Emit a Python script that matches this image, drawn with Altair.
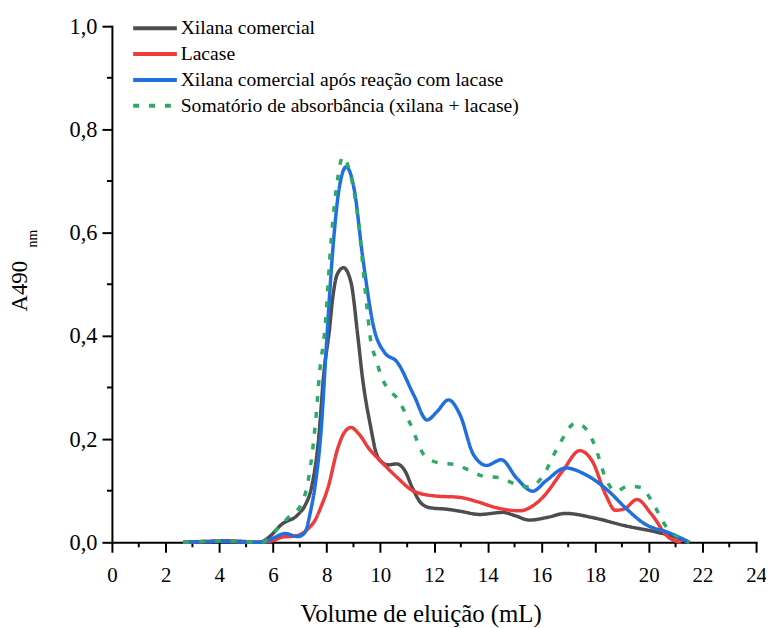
import altair as alt
import pandas as pd

series_names = [
    "Xilana comercial",
    "Lacase",
    "Xilana comercial após reação com lacase",
    "Somatório de absorbância (xilana + lacase)",
]
colors = ["#4d4d4d", "#ee3b3b", "#1f6fde", "#2eaa66"]

xil_x = [2.65, 3.5, 4.1, 4.8, 5.5, 5.85, 6.33, 6.94, 7.2, 7.43, 7.7, 7.9, 8.1, 8.23, 8.4, 8.63, 8.91, 9.16, 9.34, 9.65, 9.83, 10.02, 10.3, 10.6, 10.9, 11.2, 11.5, 11.85, 12.5, 13.0, 13.7, 14.57, 15.0, 15.56, 16.2, 16.91, 17.9, 19.13, 20.36, 21.0, 21.46]
xil_y = [0.0, 0.001, 0.003, 0.002, 0.0, 0.01, 0.035, 0.054, 0.072, 0.105, 0.2, 0.33, 0.41, 0.475, 0.52, 0.532, 0.503, 0.40, 0.317, 0.221, 0.176, 0.157, 0.15, 0.152, 0.14, 0.105, 0.077, 0.067, 0.064, 0.06, 0.054, 0.058, 0.052, 0.043, 0.048, 0.056, 0.048, 0.032, 0.019, 0.01, 0.0]

lac_x = [2.65, 4.1, 5.5, 6.0, 6.33, 6.8, 7.06, 7.3, 7.56, 7.8, 8.05, 8.42, 8.65, 8.91, 9.2, 9.6, 10.02, 10.6, 11.25, 12.0, 12.97, 13.59, 14.33, 15.19, 15.6, 16.05, 16.79, 17.43, 17.9, 18.39, 18.76, 19.1, 19.56, 20.11, 20.73, 21.2]
lac_y = [0.0, 0.002, 0.0, 0.003, 0.01, 0.012, 0.016, 0.026, 0.042, 0.07, 0.106, 0.183, 0.212, 0.2225, 0.21, 0.18, 0.157, 0.127, 0.099, 0.09, 0.087, 0.079, 0.067, 0.061, 0.068, 0.087, 0.138, 0.1775, 0.157, 0.093, 0.062, 0.065, 0.083, 0.054, 0.01, 0.0]

rea_x = [2.65, 4.1, 5.59, 6.0, 6.45, 6.94, 7.19, 7.4, 7.56, 7.8, 7.99, 8.23, 8.45, 8.73, 9.03, 9.34, 9.77, 10.14, 10.63, 11.25, 11.74, 12.11, 12.54, 12.97, 13.47, 13.96, 14.51, 15.07, 15.68, 16.17, 16.91, 17.65, 18.51, 19.13, 19.87, 20.73, 21.53]
rea_y = [0.0, 0.002, 0.0, 0.008, 0.017, 0.011, 0.019, 0.06, 0.106, 0.221, 0.381, 0.567, 0.68, 0.7275, 0.683, 0.554, 0.413, 0.369, 0.349, 0.285, 0.237, 0.253, 0.276, 0.247, 0.17, 0.149, 0.16, 0.125, 0.099, 0.119, 0.144, 0.131, 0.099, 0.067, 0.035, 0.019, 0.0]

som_x = [2.65, 4.1, 5.59, 6.08, 6.57, 7.06, 7.31, 7.5, 7.62, 7.74, 7.93, 8.17, 8.42, 8.6, 8.9, 9.16, 9.46, 9.65, 9.83, 10.02, 10.27, 10.63, 11.13, 11.62, 12.17, 12.73, 13.3, 13.84, 14.45, 15.07, 15.56, 16.05, 16.6, 17.28, 17.77, 18.02, 18.39, 18.76, 19.25, 19.74, 20.11, 20.67, 21.22, 21.5]
som_y = [0.0, 0.003, 0.0, 0.022, 0.048, 0.074, 0.119, 0.189, 0.253, 0.33, 0.41, 0.587, 0.708, 0.747, 0.71, 0.631, 0.477, 0.388, 0.356, 0.324, 0.298, 0.279, 0.228, 0.17, 0.154, 0.151, 0.14, 0.128, 0.125, 0.112, 0.107, 0.128, 0.183, 0.231, 0.212, 0.183, 0.125, 0.099, 0.109, 0.106, 0.08, 0.029, 0.006, 0.0]

x_major = list(range(0, 25, 2))
x_minor = list(range(1, 24, 2))
y_major = [0.0, 0.2, 0.4, 0.6, 0.8, 1.0]
y_minor = [0.1, 0.3, 0.5, 0.7, 0.9]

frames = []
for name, xs, ys in zip(series_names, [xil_x, lac_x, rea_x, som_x], [xil_y, lac_y, rea_y, som_y]):
    frames.append(pd.DataFrame({"vol": xs, "abs": ys, "serie": name}))
df = pd.concat(frames, ignore_index=True)

FONT = "Liberation Serif"
W, H = 649, 520

xscale = alt.Scale(domain=[0, 24], nice=False)
yscale = alt.Scale(domain=[0, 1], nice=False)

lines = alt.Chart(df).mark_line(strokeWidth=3.5, interpolate="monotone").encode(
    x=alt.X("vol:Q", scale=xscale,
            axis=alt.Axis(values=x_major, format="d", title="Volume de eluição (mL)",
                          grid=False, tickSize=10, tickWidth=2, domainWidth=2,
                          domainColor="black", tickColor="black",
                          labelFont=FONT, labelFontSize=21, labelColor="black",
                          labelPadding=12, labelFlush=False,
                          titleFont=FONT, titleFontSize=25, titleFontWeight="normal",
                          titleColor="black", titlePadding=17, titleX=311,
                          titleAnchor="start", titleAlign="center")),
    y=alt.Y("abs:Q", scale=yscale,
            axis=alt.Axis(values=y_major, title=None,
                          labelExpr="replace(format(datum.value, '.1f'), '.', ',')",
                          grid=False, tickSize=10, tickWidth=2, domainWidth=2,
                          domainColor="black", tickColor="black",
                          labelFont=FONT, labelFontSize=22.5, labelColor="black",
                          labelPadding=5, labelFlush=False)),
    color=alt.Color("serie:N", scale=alt.Scale(domain=series_names, range=colors),
                    sort=series_names,
                    legend=alt.Legend(title=None, orient="none", legendX=36.6, legendY=-13.4,
                                      symbolType="M-2.3,0H1", symbolSize=711,
                                      symbolStrokeWidth=4, symbolFillColor="transparent",
                                      labelFont=FONT,
                                      labelFontSize=19.75, labelColor="black",
                                      labelOffset=1.7, rowPadding=-1, labelLimit=600)),
    strokeDash=alt.StrokeDash("serie:N",
                              scale=alt.Scale(domain=series_names,
                                              range=[[1, 0], [1, 0], [1, 0], [6, 10]]),
                              sort=series_names, legend=None),
    detail="serie:N",
)

xminor_df = pd.DataFrame({"v": x_minor})
yminor_df = pd.DataFrame({"v": y_minor})

xminor = alt.Chart(xminor_df).mark_rule(color="black", strokeWidth=2).encode(
    x=alt.X("v:Q", scale=xscale),
    y=alt.value(H), y2=alt.value(H + 5),
)
yminor = alt.Chart(yminor_df).mark_rule(color="black", strokeWidth=2).encode(
    y=alt.Y("v:Q", scale=yscale),
    x=alt.value(0), x2=alt.value(-5),
)

ytitle_df = pd.DataFrame({"t": ["A490"]})
ytitle = alt.Chart(ytitle_df).mark_text(font=FONT, fontSize=23, angle=270,
                                         align="center", baseline="middle",
                                         color="black").encode(
    text="t:N", x=alt.value(-93), y=alt.value(262))
nm_df = pd.DataFrame({"t": ["nm"]})
ysub = alt.Chart(nm_df).mark_text(font=FONT, fontSize=14, angle=270,
                                   align="center", baseline="middle",
                                   color="black").encode(
    text="t:N", x=alt.value(-79), y=alt.value(214))

chart = alt.layer(xminor, yminor, lines, ytitle, ysub).properties(
    width=W, height=H,
    autosize=alt.AutoSizeParams(type="none"),
    padding={"left": 104.7, "top": 16, "right": 10, "bottom": 84},
).configure_view(stroke=None).configure_axis(domainCap="square").configure_legend(
    labelFont=FONT, labelFontSize=19.75, labelColor="black"
)

chart.save("out.html", embed_options={"renderer": "svg", "actions": False})
